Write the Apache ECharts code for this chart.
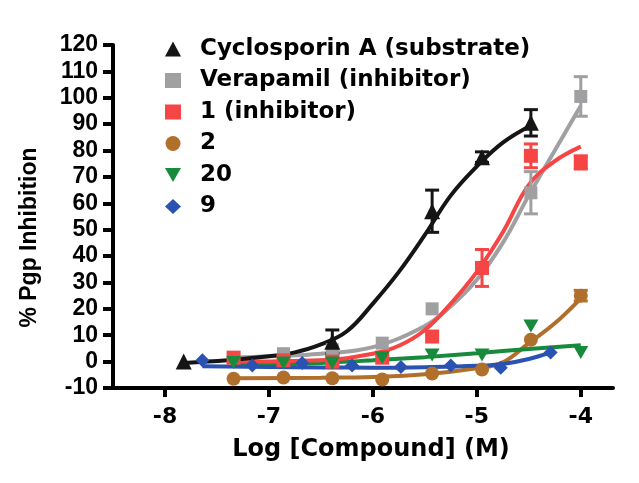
<!DOCTYPE html>
<html>
<head>
<meta charset="utf-8">
<script src="https://cdn.jsdelivr.net/npm/echarts@6/dist/echarts.min.js"></script>
<style>html,body{margin:0;padding:0;background:#fff}#c{width:639px;height:483px}</style>
</head>
<body>
<div id="c"></div>
<script>
// ---- data ----
const xTicks = [-8, -7, -6, -5, -4];
const yTicks = [-10, 0, 10, 20, 30, 40, 50, 60, 70, 80, 90, 100, 110, 120];

const seriesNames = ['Cyclosporin A (substrate)', 'Verapamil (inhibitor)', '1 (inhibitor)', '2', '20', '9'];

// Cyclosporin A
const csaX = [-7.82, -6.39, -5.43, -4.95, -4.48];
const csaY = [0, 7.5, 57, 77.5, 90.5];
const csaErr = [0, 4.5, 8, 2, 5];
const csaFitX = [-7.82, -7.4, -7.0, -6.75, -6.5, -6.25, -6.0, -5.75, -5.5, -5.25, -5.0, -4.75, -4.48];
const csaFitY = [-0.5, 0.5, 2, 3.5, 6.5, 11.5, 22, 34, 48, 63, 74, 83, 89.5];

// Verapamil
const verX = [-7.34, -6.86, -6.39, -5.91, -5.43, -4.48, -4.0];
const verY = [1.5, 3, 4.5, 7, 20, 64, 100.5];
const verErr = [0, 0, 0, 0, 0, 8, 7.5];
const verFitX = [-7.34, -7.0, -6.5, -6.0, -5.5, -5.25, -5.0, -4.75, -4.5, -4.25, -4.0];
const verFitY = [1.5, 2, 3, 5.5, 13.5, 21, 31, 45, 63, 80, 97];

// compound 1
const c1X = [-7.34, -6.86, -6.39, -5.91, -5.43, -4.95, -4.48, -4.0];
const c1Y = [1.5, 0.5, 0, 1.5, 9.5, 35.5, 78, 75.5];
const c1Err = [0, 0, 0, 0, 0, 7, 4.5, 2.5];
const c1FitX = [-7.34, -6.5, -6.0, -5.75, -5.5, -5.25, -5.0, -4.75, -4.5, -4.25, -4.0];
const c1FitY = [0, 0.5, 3, 6, 12, 22, 34, 49, 67, 76, 81.5];

// compound 2
const c2X = [-7.34, -6.86, -6.39, -5.91, -5.43, -4.95, -4.48, -4.0];
const c2Y = [-6.5, -6, -6.3, -6.8, -4.5, -3, 8.3, 25];
const c2Err = [0, 0, 0, 0, 0, 0, 0, 2];
const c2FitX = [-7.34, -6.5, -6.0, -5.5, -5.0, -4.75, -4.5, -4.25, -4.0];
const c2FitY = [-6.3, -6.1, -5.8, -4.8, -2.5, -0.3, 7, 14.5, 24];

// compound 20
const c20X = [-7.34, -6.86, -6.39, -5.91, -5.43, -4.95, -4.48, -4.0];
const c20Y = [-0.3, -0.5, -0.5, 1.5, 2.5, 2.5, 13.5, 3.5];
const c20FitX = [-7.34, -6.5, -6.0, -5.5, -5.0, -4.5, -4.0];
const c20FitY = [-1.2, -0.5, 0.5, 1.7, 3.2, 4.8, 6.2];

// compound 9
const c9X = [-7.64, -7.16, -6.68, -6.2, -5.73, -5.25, -4.77, -4.29];
const c9Y = [0.5, -1.5, -0.5, -1.5, -2, -1.5, -2.3, 3.5];
const c9FitX = [-7.64, -7.0, -6.5, -6.0, -5.5, -5.0, -4.75, -4.5, -4.29];
const c9FitY = [-1.8, -2, -2.2, -2.3, -2.1, -1.6, -0.9, 1.0, 3.5];

// ---- styling ----
const colors = ['#151515', '#a0a0a3', '#f54545', '#b0702b', '#178a3c', '#2a52b2'];
const downTri = 'path://M0,0 L10,0 L5,8.66 Z';

function pairs(xs, ys) { return xs.map((x, i) => [x, ys[i]]); }
function triples(xs, ys, es) { return xs.map((x, i) => [x, ys[i], es[i]]); }

function fitSeries(name, xs, ys, color, z) {
  return { name: name, type: 'line', data: pairs(xs, ys), smooth: 0.4, showSymbol: false, symbol: 'none',
    lineStyle: { color: color, width: 4 }, z: z, silent: true };
}
function ptSeries(name, xs, ys, color, symbol, size, z) {
  return { name: name, type: 'scatter', data: pairs(xs, ys), symbol: symbol, symbolSize: size,
    symbolKeepAspect: true, itemStyle: { color: color, opacity: 1 }, z: z };
}
function errSeries(name, xs, ys, es, color, z) {
  return { name: name, type: 'custom', data: triples(xs, ys, es), z: z, silent: true,
    renderItem: function (params, api) {
      const x = api.value(0), y = api.value(1), e = api.value(2);
      if (!e) return null;
      const t = api.coord([x, y + e]), b = api.coord([x, y - e]);
      const w = 7, st = { stroke: color, lineWidth: 3 };
      return { type: 'group', children: [
        { type: 'line', shape: { x1: t[0], y1: t[1], x2: b[0], y2: b[1] }, style: st },
        { type: 'line', shape: { x1: t[0] - w, y1: t[1], x2: t[0] + w, y2: t[1] }, style: st },
        { type: 'line', shape: { x1: b[0] - w, y1: b[1], x2: b[0] + w, y2: b[1] }, style: st }
      ] };
    } };
}

const legendData = seriesNames.map((n, i) => i === 4 ? { name: n, icon: downTri } : { name: n });

const chart = echarts.init(document.getElementById('c'), null, { renderer: 'canvas' });
const option = {
  animation: false,
  backgroundColor: '#fff',
  grid: { left: 113, right: 26, top: 45, bottom: 95, containLabel: false },
  legend: {
    data: legendData, orient: 'vertical', left: 160, top: 32,
    itemWidth: 16, itemHeight: 15, itemGap: 7.5, selectedMode: false, symbolKeepAspect: true,
    textStyle: { fontFamily: 'DejaVu Sans', fontWeight: 'bold', fontSize: 23, color: '#000', lineHeight: 24, padding: [0, 0, 0, 14] }
  },
  xAxis: {
    type: 'value', min: -8.5, max: -3.69,
    name: 'Log [Compound] (M)', nameLocation: 'middle', nameGap: 50,
    nameTextStyle: { fontFamily: 'DejaVu Sans', fontWeight: 'bold', fontSize: 24, color: '#000', padding: [0, 0, 0, 16] },
    axisLine: { onZero: false, lineStyle: { color: '#000', width: 4 } },
    axisTick: { customValues: xTicks, length: 9, lineStyle: { color: '#000', width: 4 } },
    axisLabel: { customValues: xTicks, margin: 18, fontFamily: 'DejaVu Sans', fontWeight: 'bold', fontSize: 22, color: '#000' },
    splitLine: { show: false }
  },
  yAxis: {
    type: 'value', min: yTicks[0], max: yTicks[yTicks.length - 1], interval: 10,
    name: '% Pgp Inhibition', nameLocation: 'middle', nameGap: 72, nameRotate: 90,
    nameTextStyle: { fontFamily: 'Liberation Sans', fontWeight: 'bold', fontSize: 23, color: '#000', padding: [0, 42, 0, 0] },
    axisLine: { onZero: false, lineStyle: { color: '#000', width: 4 } },
    axisTick: { length: 10, lineStyle: { color: '#000', width: 4 } },
    axisLabel: { margin: 15, fontFamily: 'Liberation Sans', fontWeight: 'bold', fontSize: 23, color: '#000' },
    splitLine: { show: false }
  },
  series: [
    fitSeries('fit-ver', verFitX, verFitY, colors[1], 2),
    fitSeries('fit-c1', c1FitX, c1FitY, colors[2], 3),
    fitSeries('fit-c2', c2FitX, c2FitY, colors[3], 2),
    fitSeries('fit-c20', c20FitX, c20FitY, colors[4], 2),
    fitSeries('fit-c9', c9FitX, c9FitY, colors[5], 3),
    fitSeries('fit-csa', csaFitX, csaFitY, colors[0], 4),
    errSeries('err-ver', verX, verY, verErr, colors[1], 5),
    errSeries('err-c1', c1X, c1Y, c1Err, colors[2], 5),
    errSeries('err-c2', c2X, c2Y, c2Err, colors[3], 5),
    errSeries('err-csa', csaX, csaY, csaErr, colors[0], 5),
    ptSeries(seriesNames[1], verX, verY, colors[1], 'rect', 13, 6),
    ptSeries(seriesNames[2], c1X, c1Y, colors[2], 'rect', 14, 6),
    ptSeries(seriesNames[3], c2X, c2Y, colors[3], 'circle', 14, 6),
    ptSeries(seriesNames[4], c20X, c20Y, colors[4], downTri, 15, 6),
    ptSeries(seriesNames[5], c9X, c9Y, colors[5], 'diamond', 14, 6),
    ptSeries(seriesNames[0], csaX, csaY, colors[0], 'triangle', 16, 7)
  ]
};
chart.setOption(option);
</script>
</body>
</html>
